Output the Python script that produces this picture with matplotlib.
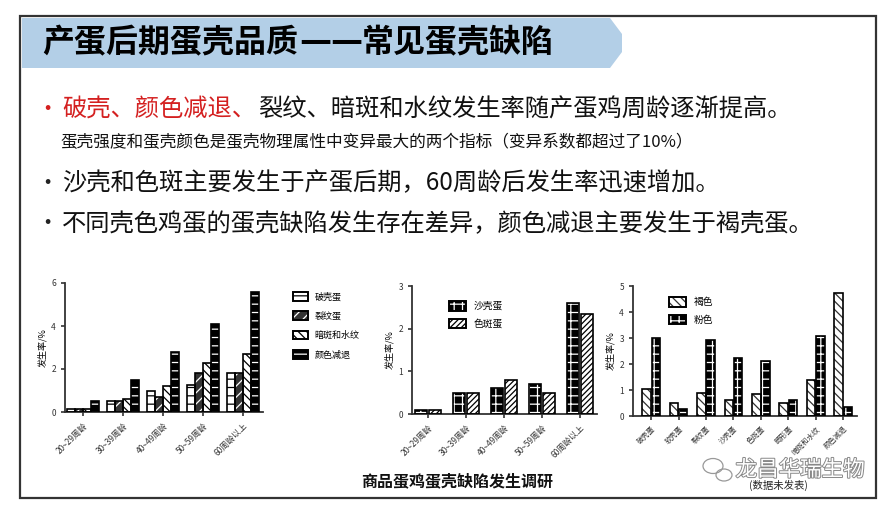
import numpy as np
import matplotlib
matplotlib.use('Agg')
import matplotlib.pyplot as plt
from matplotlib.patches import Polygon, Rectangle, Patch, Ellipse
import matplotlib.patheffects as pe

plt.rcParams['font.family'] = ['Noto Sans CJK SC', 'DejaVu Sans']
plt.rcParams['hatch.linewidth'] = 0.9

# ---------------- data ----------------
age_groups = ['20~29周龄', '30~39周龄', '40~49周龄', '50~59周龄', '60周龄以上']
broken = [0.15, 0.5, 1.0, 1.25, 1.8]
cracked = [0.15, 0.5, 0.7, 1.8, 1.8]
dark_spot = [0.15, 0.6, 1.2, 2.3, 2.7]
color_fade = [0.5, 1.5, 2.8, 4.1, 5.6]
chart1_labels = ['破壳蛋', '裂纹蛋', '暗斑和水纹', '颜色减退']

sandy = [0.1, 0.5, 0.6, 0.7, 2.6]
spotted = [0.1, 0.5, 0.8, 0.5, 2.35]
chart2_labels = ['沙壳蛋', '色斑蛋']

defect_types = ['破壳蛋', '软壳蛋', '裂纹蛋', '沙壳蛋', '色斑蛋', '畸形蛋', '暗斑和水纹', '颜色减退']
brown = [1.03, 0.5, 0.9, 0.62, 0.86, 0.5, 1.4, 4.72]
pink = [3.0, 0.28, 2.92, 2.24, 2.12, 0.63, 3.08, 0.33]
chart3_labels = ['褐色', '粉色']

W, H = 893, 512
fig = plt.figure(figsize=(W / 100, H / 100), dpi=100)

# ---------------- slide background ----------------
bg = fig.add_axes([0, 0, 1, 1], zorder=0)
bg.set_xlim(0, W)
bg.set_ylim(H, 0)
bg.axis('off')
bg.add_patch(Rectangle((20, 16), 856, 482, fill=False, edgecolor='#333333', lw=1.6))
bg.add_patch(Polygon([(22, 18), (610, 18), (622, 34), (622, 52), (610, 68), (22, 68)],
                     closed=True, facecolor='#b3cfe7', edgecolor='none'))
# title drawn in pieces so the double dash joins into one line
bg.text(42, 43, '产蛋后期蛋壳品质', fontsize=23, fontweight='bold',
        va='center', ha='left', color='black')
for dx in (299, 330):
    bg.text(dx, 43, '—', fontsize=23, fontweight='bold', family=['DejaVu Sans'],
            va='center', ha='left', color='black')
bg.text(362, 43, '常见蛋壳缺陷', fontsize=23, fontweight='bold',
        va='center', ha='left', color='black')

bg.text(36, 110, '•', fontsize=16, color='#d42020', va='center')
bg.text(62, 110, '破壳、颜色减退、', fontsize=17.5, color='#d42020', va='center')
bg.text(62 + 8 * 24.5, 110, '裂纹、暗斑和水纹发生率随产蛋鸡周龄逐渐提高。', fontsize=17.5,
        color='#111111', va='center')
bg.text(60, 143, '蛋壳强度和蛋壳颜色是蛋壳物理属性中变异最大的两个指标（变异系数都超过了10%）',
        fontsize=12, color='#111111', va='center')
bg.text(36, 183, '•', fontsize=16, color='#222222', va='center')
bg.text(62, 183, '沙壳和色斑主要发生于产蛋后期，60周龄后发生率迅速增加。', fontsize=17.5,
        color='#111111', va='center')
bg.text(36, 224, '•', fontsize=16, color='#222222', va='center')
bg.text(62, 224, '不同壳色鸡蛋的蛋壳缺陷发生存在差异，颜色减退主要发生于褐壳蛋。', fontsize=17.5,
        color='#111111', va='center')

bg.text(457, 481, '商品蛋鸡蛋壳缺陷发生调研', fontsize=11.5, fontweight='bold',
        ha='center', va='center', color='#111111')
bg.text(778, 485, '(数据未发表)', fontsize=7.5, ha='center', va='center', color='#222222')
bg.text(800, 470, '龙昌华瑞生物', fontsize=15.5, ha='center', va='center', color='white',
        path_effects=[pe.withStroke(linewidth=1.4, foreground='#888888')])
bg.add_patch(Ellipse((713, 466), 20, 15, fill=False, edgecolor='#999999', lw=0.9))
bg.add_patch(Ellipse((724, 475), 16, 12, fill=False, edgecolor='#999999', lw=0.9))


def px_axes(left, right, top, bottom):
    return fig.add_axes([left / W, 1 - bottom / H, (right - left) / W, (bottom - top) / H], zorder=2)


def hbar(ax, x, h, w, face, hatch, hcolor):
    ax.bar(x, h, w, color=face, edgecolor=hcolor, hatch=hatch, lw=0, zorder=2)
    ax.bar(x, h, w, fill=False, edgecolor='black', lw=1.2, zorder=3)


def hhandle(face, hatch, hcolor):
    return (Patch(facecolor=face, edgecolor=hcolor, hatch=hatch, lw=0),
            Patch(fill=False, edgecolor='black', lw=1.4))


def style(ax, ymax, step, labels, xfs=6):
    ax.set_ylim(0, ymax)
    ax.set_yticks(np.arange(0, ymax + 0.01, step))
    ax.spines['top'].set_visible(False)
    ax.spines['right'].set_visible(False)
    for s in ('left', 'bottom'):
        ax.spines[s].set_linewidth(1.3)
        ax.spines[s].set_color('#333333')
    ax.tick_params(width=1.2, length=3, labelsize=6, colors='#333333')
    ax.set_xticks(range(len(labels)))
    ax.set_xticklabels(labels, rotation=45, ha='right', rotation_mode='anchor', fontsize=xfs)
    ax.set_ylabel('发生率/%', fontsize=6.5, labelpad=3)
    ax.patch.set_alpha(0)


# chart 1
styles1 = [('white', '--', 'black'), ('#333333', '///', 'white'),
           ('white', '\\\\\\\\', 'black'), ('black', '--', 'white')]
ax1 = px_axes(65, 263, 283, 412)
x = np.arange(len(age_groups))
for i, (vals, st) in enumerate(zip([broken, cracked, dark_spot, color_fade], styles1)):
    hbar(ax1, x + (i - 1.5) * 0.2, vals, 0.19, *st)
ax1.set_xlim(-0.45, 4.5)
style(ax1, 6, 2, age_groups)
fig.legend([hhandle(*s) for s in styles1], chart1_labels, loc='upper left',
           bbox_to_anchor=(285 / W, 1 - 284 / H), frameon=False, fontsize=6.5,
           handlelength=1.6, handleheight=1.1, labelspacing=1.1)

# chart 2
styles2 = [('black', '++', 'white'), ('white', '//////', 'black')]
ax2 = px_axes(412, 597, 286, 414)
for i, (vals, st) in enumerate(zip([sandy, spotted], styles2)):
    hbar(ax2, x + (i - 0.5) * 0.36, vals, 0.32, *st)
ax2.set_xlim(-0.42, 4.45)
style(ax2, 3, 1, age_groups)
ax2.legend([hhandle(*s) for s in styles2], chart2_labels, loc='upper left',
           bbox_to_anchor=(0.15, 0.95), frameon=False, fontsize=7,
           handlelength=1.8, handleheight=1.1, labelspacing=0.8)

# chart 3
styles3 = [('white', '\\\\\\\\', '#333333'), ('black', '++', 'white')]
ax3 = px_axes(633, 857, 286, 416)
x3 = np.arange(len(defect_types))
for i, (vals, st) in enumerate(zip([brown, pink], styles3)):
    hbar(ax3, x3 + (i - 0.5) * 0.34, vals, 0.31, *st)
ax3.set_xlim(-0.66, 7.5)
style(ax3, 5, 1, defect_types, xfs=5.2)
ax3.legend([hhandle(*s) for s in styles3], chart3_labels, loc='upper left',
           bbox_to_anchor=(0.12, 0.98), frameon=False, fontsize=7,
           handlelength=1.8, handleheight=1.1, labelspacing=0.8)

fig.savefig('out.png', dpi=100)
